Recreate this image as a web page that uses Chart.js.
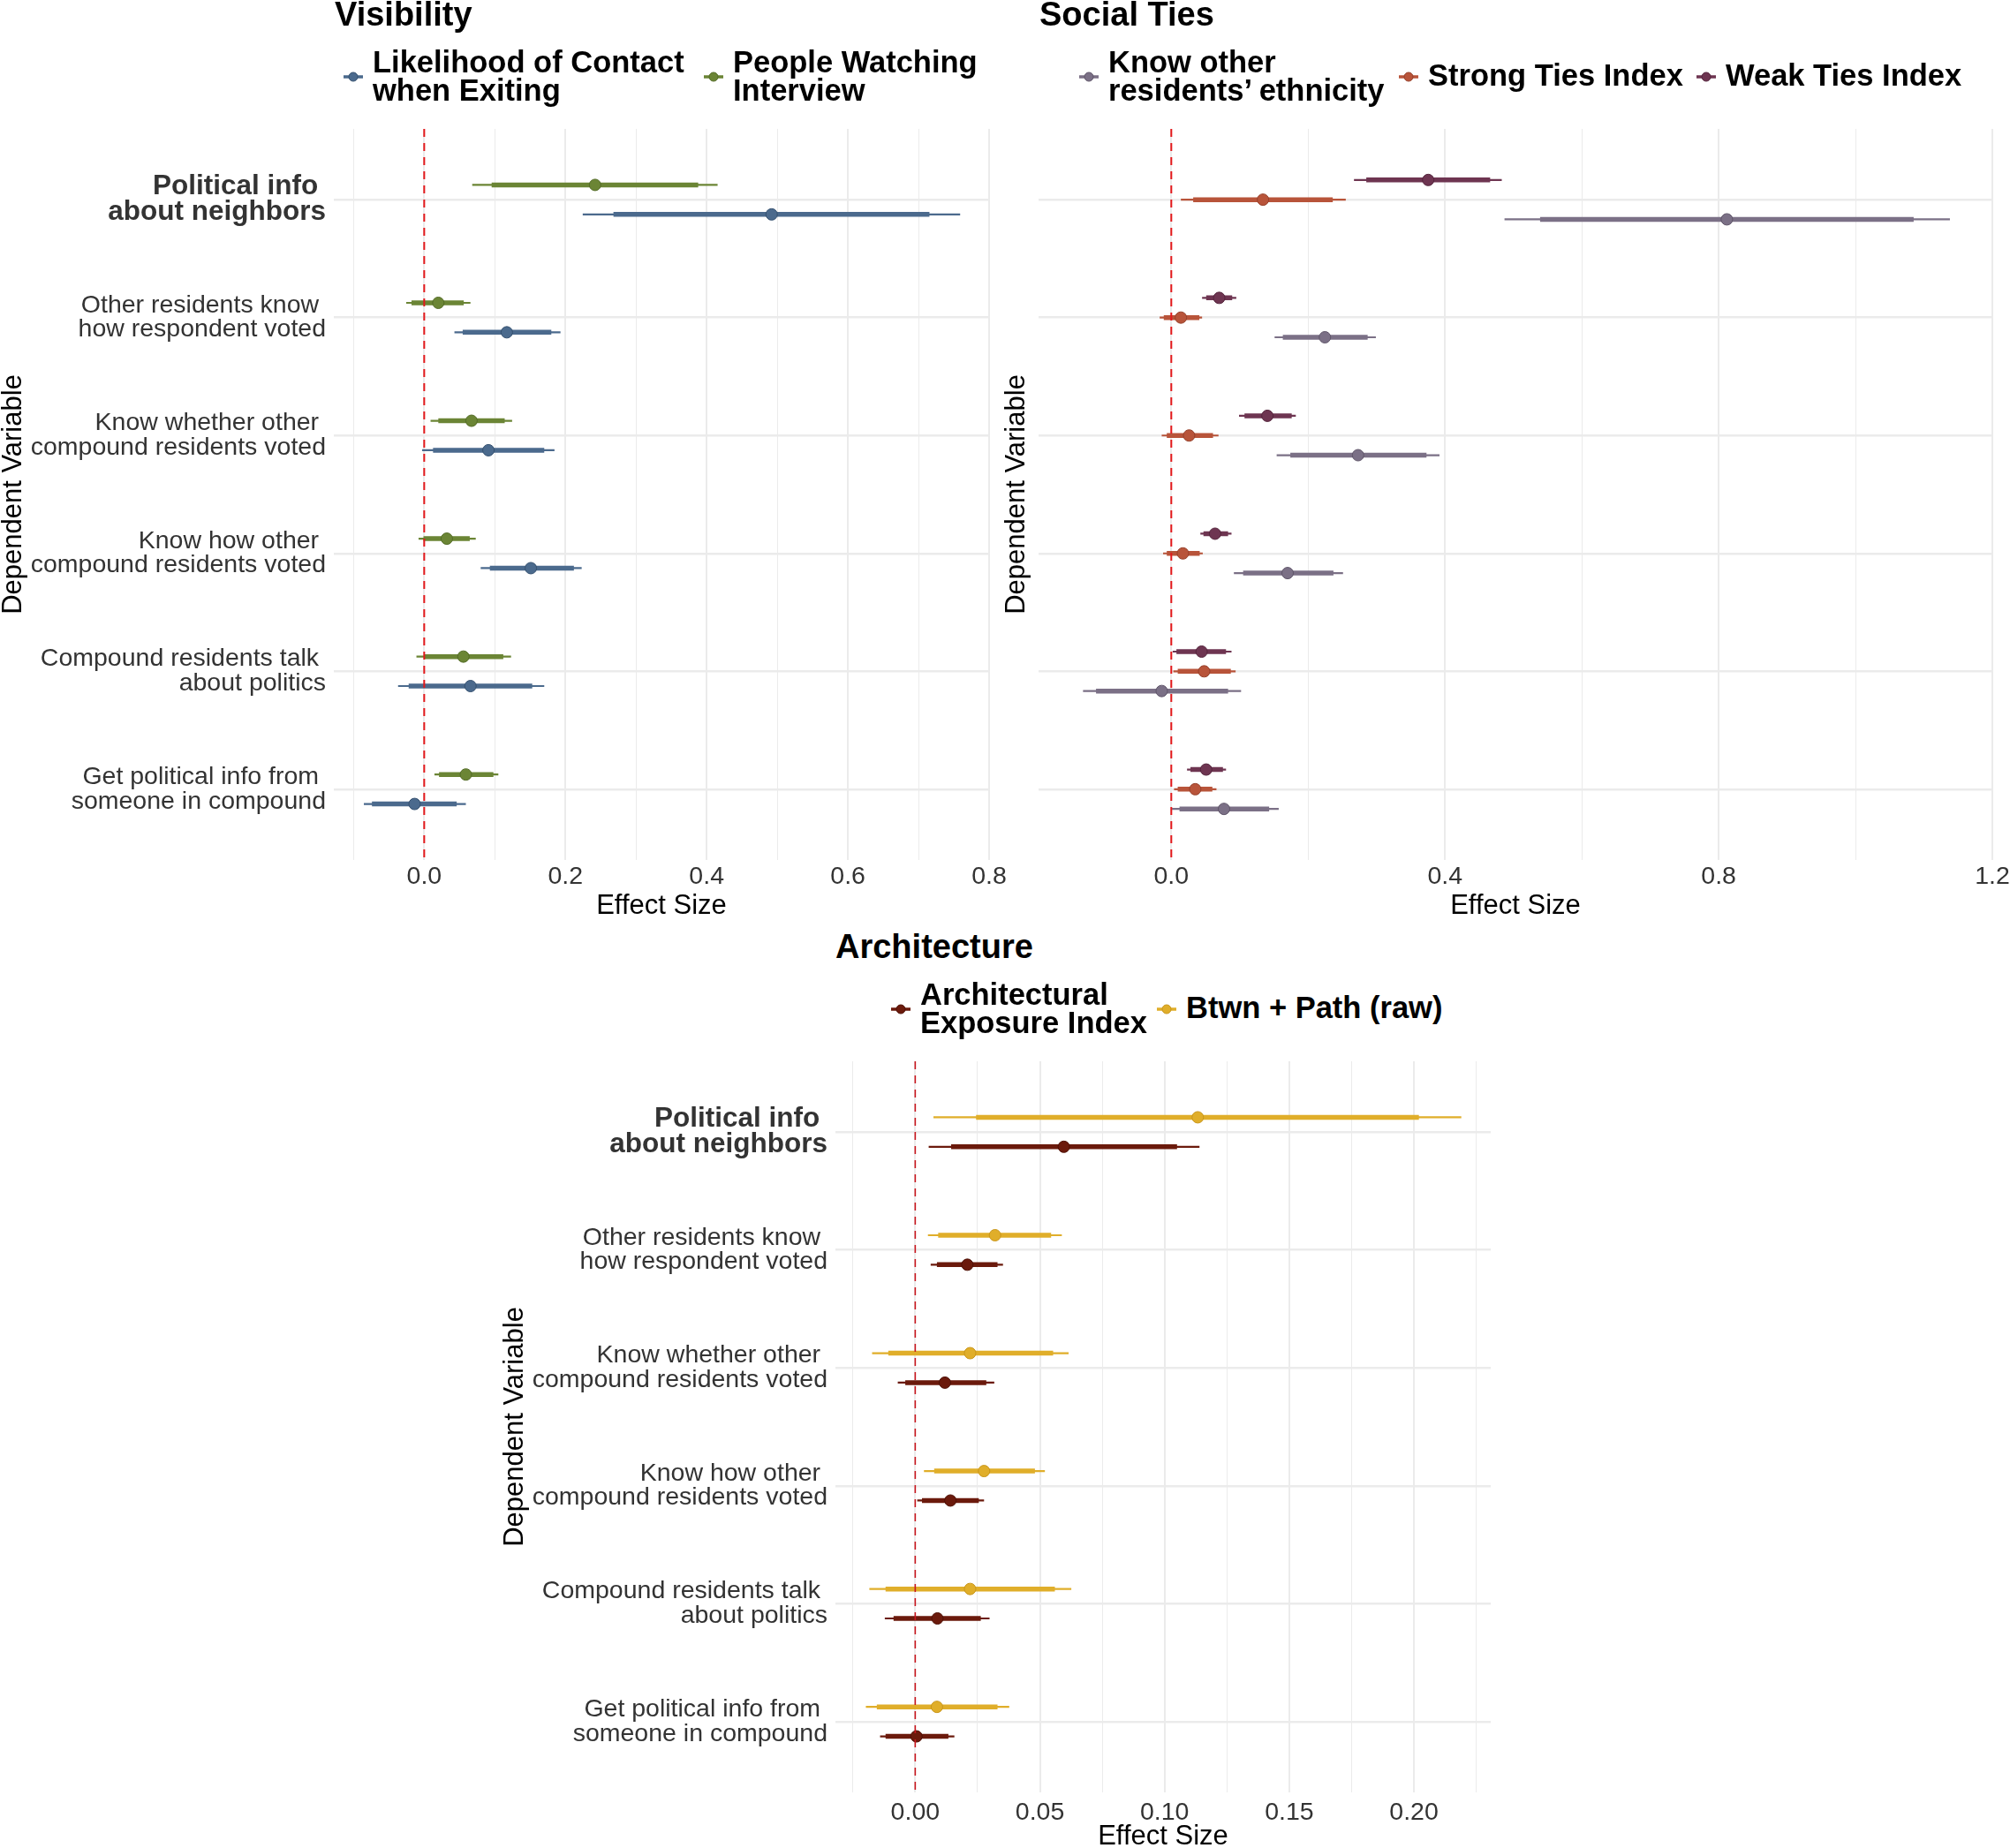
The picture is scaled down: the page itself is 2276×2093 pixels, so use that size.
<!DOCTYPE html>
<html lang="en">
<head>
<meta charset="UTF-8">
<title>Effect sizes: Visibility, Social Ties, Architecture</title>
<script src="https://cdn.jsdelivr.net/npm/chart.js@4.4.0/dist/chart.umd.min.js"></script>
<style>
    body { margin: 0; width: 2276px; height: 2093px; overflow: hidden; background: #fff; position: relative;
           font-family: 'Liberation Sans', Arial, sans-serif; }
    canvas { position: absolute; }
    .ttl { position: absolute; font-weight: bold; font-size: 38px; line-height: 38px; color: #000; white-space: nowrap; }
    .lg { position: absolute; font-weight: bold; font-size: 34.5px; line-height: 32px; color: #000; white-space: nowrap; }
    .key { position: absolute; }
</style>
</head>
<body>

<canvas id="visChart" width="1140" height="1045" style="left:0;top:0"></canvas>
<canvas id="socChart" width="1146" height="1045" style="left:1130px;top:0"></canvas>
<canvas id="archChart" width="1140" height="936" style="left:560px;top:1160px"></canvas>

<script>
// categories (top to bottom), label lines
const categories = [
    ['Political info ', 'about neighbors'],
    ['Other residents know ', 'how respondent voted'],
    ['Know whether other ', 'compound residents voted'],
    ['Know how other ', 'compound residents voted'],
    ['Compound residents talk ', 'about politics'],
    ['Get political info from ', 'someone in compound']
];

// x ticks ('' = minor gridline only)
const visTicks = [-0.1, 0, 0.1, 0.2, 0.3, 0.4, 0.5, 0.6, 0.7, 0.8];
const visTickLabels = ['', '0.0', '', '0.2', '', '0.4', '', '0.6', '', '0.8'];
const socTicks = [0, 0.2, 0.4, 0.6, 0.8, 1.0, 1.2];
const socTickLabels = ['0.0', '', '0.4', '', '0.8', '', '1.2'];
const archTicks = [-0.025, 0, 0.025, 0.05, 0.075, 0.1, 0.125, 0.15, 0.175, 0.2, 0.225];
const archTickLabels = ['', '0.00', '', '0.05', '', '0.10', '', '0.15', '', '0.20', ''];

// Visibility: Likelihood of Contact when Exiting
const contactEst  = [0.492, 0.117, 0.091, 0.151, 0.0655, -0.0136];
const contactLo95 = [0.2245, 0.0428, -0.003, 0.080, -0.037, -0.0855];
const contactHi95 = [0.759, 0.193, 0.1845, 0.223, 0.170, 0.059];
const contactLo   = [0.268, 0.0545, 0.0125, 0.093, -0.022, -0.074];
const contactHi   = [0.7155, 0.180, 0.170, 0.212, 0.153, 0.046];

// Visibility: People Watching Interview
const watchEst  = [0.242, 0.020, 0.067, 0.032, 0.0555, 0.059];
const watchLo95 = [0.068, -0.0255, 0.009, -0.008, -0.011, 0.0145];
const watchHi95 = [0.4155, 0.0655, 0.1245, 0.073, 0.123, 0.105];
const watchLo   = [0.0955, -0.018, 0.020, -0.001, 0.000, 0.021];
const watchHi   = [0.388, 0.056, 0.114, 0.0645, 0.112, 0.098];

// Social Ties: Know other residents' ethnicity
const knowEst  = [0.812, 0.2245, 0.273, 0.170, -0.014, 0.077];
const knowLo95 = [0.487, 0.151, 0.154, 0.0915, -0.129, 0.001];
const knowHi95 = [1.138, 0.299, 0.392, 0.251, 0.102, 0.157];
const knowLo   = [0.539, 0.163, 0.174, 0.105, -0.110, 0.012];
const knowHi   = [1.085, 0.287, 0.373, 0.237, 0.083, 0.143];

// Social Ties: Strong Ties Index
const strongEst  = [0.134, 0.014, 0.026, 0.017, 0.048, 0.035];
const strongLo95 = [0.014, -0.017, -0.014, -0.012, 0.003, 0.004];
const strongHi95 = [0.255, 0.045, 0.069, 0.046, 0.094, 0.066];
const strongLo   = [0.032, -0.011, -0.0066, -0.0066, 0.0094, 0.0094];
const strongHi   = [0.236, 0.041, 0.061, 0.0415, 0.087, 0.060];

// Social Ties: Weak Ties Index
const weakEst  = [0.3755, 0.070, 0.1405, 0.064, 0.0443, 0.051];
const weakLo95 = [0.267, 0.045, 0.099, 0.0425, 0.002, 0.023];
const weakHi95 = [0.483, 0.095, 0.182, 0.088, 0.088, 0.080];
const weakLo   = [0.285, 0.051, 0.107, 0.047, 0.0075, 0.028];
const weakHi   = [0.466, 0.089, 0.176, 0.083, 0.080, 0.0755];

// Architecture: Architectural Exposure Index
const archEst  = [0.0596, 0.0209, 0.0119, 0.0141, 0.0089, 0.0005];
const archLo95 = [0.0054, 0.0062, -0.007, 0.0008, -0.0122, -0.0141];
const archHi95 = [0.114, 0.0352, 0.0317, 0.0276, 0.0298, 0.0157];
const archLo   = [0.0144, 0.0087, -0.004, 0.0027, -0.0087, -0.0119];
const archHi   = [0.105, 0.033, 0.0285, 0.0255, 0.0263, 0.0133];

// Architecture: Btwn + Path (raw)
const btwnEst  = [0.1133, 0.032, 0.022, 0.0276, 0.022, 0.0087];
const btwnLo95 = [0.0073, 0.0051, -0.0173, 0.0035, -0.0184, -0.0198];
const btwnHi95 = [0.219, 0.0588, 0.0615, 0.052, 0.0626, 0.0377];
const btwnLo   = [0.0244, 0.0092, -0.0108, 0.0076, -0.0119, -0.0154];
const btwnHi   = [0.202, 0.0545, 0.0553, 0.048, 0.056, 0.033];

Chart.defaults.font.family = "'Liberation Sans', Arial, sans-serif";

// offset = dodge within a category row (negative = above)
const visSeries = [
    { name: ['Likelihood of Contact', 'when Exiting'], color: '#4B6A8D', edge: '#34506F', off: 0.125,
      est: contactEst, lo95: contactLo95, hi95: contactHi95, lo: contactLo, hi: contactHi },
    { name: ['People Watching', 'Interview'], color: '#6B8535', edge: '#536B26', off: -0.125,
      est: watchEst, lo95: watchLo95, hi95: watchHi95, lo: watchLo, hi: watchHi }
];
const socSeries = [
    { name: ['Know other', 'residents\u2019 ethnicity'], color: '#7B7086', edge: '#5F5569', off: 0.167,
      est: knowEst, lo95: knowLo95, hi95: knowHi95, lo: knowLo, hi: knowHi },
    { name: ['Strong Ties Index'], color: '#B8543A', edge: '#96402A', off: 0,
      est: strongEst, lo95: strongLo95, hi95: strongHi95, lo: strongLo, hi: strongHi },
    { name: ['Weak Ties Index'], color: '#6E3551', edge: '#54243C', off: -0.167,
      est: weakEst, lo95: weakLo95, hi95: weakHi95, lo: weakLo, hi: weakHi }
];
const archSeries = [
    { name: ['Architectural', 'Exposure Index'], color: '#6B1A0C', edge: '#4E1005', off: 0.125,
      est: archEst, lo95: archLo95, hi95: archHi95, lo: archLo, hi: archHi },
    { name: ['Btwn + Path (raw)'], color: '#E0AE2A', edge: '#C9961A', off: -0.125,
      est: btwnEst, lo95: btwnLo95, hi95: btwnHi95, lo: btwnLo, hi: btwnHi }
];

function segs(lo, hi, off) {
    const pts = [];
    lo.forEach((l, i) => {
        pts.push({ x: l, y: i + 1 + off }, { x: hi[i], y: i + 1 + off }, { x: null, y: null });
    });
    return pts;
}

function buildChart(id, series, ticks, tickLabels, o) {
    const datasets = [{
        data: [{ x: 0, y: 0.4 }, { x: 0, y: 6.6 }],
        showLine: true, borderColor: o.zeroColor, borderWidth: o.zeroWidth, borderDash: [9, 7],
        pointRadius: 0, order: 0
    }];
    series.forEach(s => {
        datasets.push({
            data: s.est.map((v, i) => ({ x: v, y: i + 1 + s.off })),
            showLine: false, pointRadius: 6.5, pointBackgroundColor: s.color,
            pointBorderColor: s.edge, pointBorderWidth: 1, order: 1
        });
        datasets.push({
            data: segs(s.lo, s.hi, s.off), showLine: true, borderColor: s.color,
            borderWidth: 5.5, pointRadius: 0, order: 2
        });
        datasets.push({
            data: segs(s.lo95, s.hi95, s.off), showLine: true, borderColor: s.color,
            borderWidth: 2.2, pointRadius: 0, order: 3
        });
    });

    new Chart(document.getElementById(id), {
        type: 'scatter',
        data: { datasets },
        options: {
            responsive: false,
            animation: false,
            events: [],
            devicePixelRatio: 1,
            layout: { padding: { top: o.padTop, right: o.padRight, left: 0, bottom: 0 } },
            plugins: { legend: { display: false }, tooltip: { enabled: false } },
            scales: {
                x: {
                    type: 'linear', min: o.xMin, max: o.xMax,
                    afterBuildTicks: sc => { sc.ticks = ticks.map(v => ({ value: v })); },
                    afterFit: sc => { sc.height = o.xHeight; sc.paddingLeft = 0; sc.paddingRight = 0; },
                    ticks: { autoSkip: false, maxRotation: 0, padding: o.xTickPad, color: '#333',
                             font: { size: 28.5 }, callback: (v, i) => tickLabels[i] },
                    grid: { color: '#EBEBEB', drawTicks: false,
                            lineWidth: c => tickLabels[c.index] ? 2 : 1 },
                    border: { display: false },
                    title: { display: true, text: 'Effect Size', color: '#000',
                             font: { size: 31, lineHeight: 1 }, padding: { top: 0, bottom: o.xTitlePad } }
                },
                y: {
                    type: 'linear', min: 0.4, max: 6.6, reverse: true,
                    afterBuildTicks: sc => { sc.ticks = categories.map((c, i) => ({ value: i + 1 })); },
                    afterFit: sc => { sc.width = o.yWidth; sc.paddingTop = 0; sc.paddingBottom = 0; },
                    ticks: { autoSkip: false, padding: 9, display: o.showCats, color: '#333',
                             callback: (v, i) => categories[i],
                             font: c => c.index === 0
                                 ? { size: 31.5, weight: 'bold', lineHeight: 0.93 }
                                 : { size: 28.5, weight: 'normal', lineHeight: 0.97 } },
                    grid: { color: '#EBEBEB', lineWidth: 2.5, drawTicks: false },
                    border: { display: false },
                    title: { display: true, text: 'Dependent Variable', color: '#000',
                             font: { size: 31, lineHeight: 1 }, padding: { top: o.yTitlePad, bottom: 0 } }
                }
            }
        }
    });
}

buildChart('visChart', visSeries, visTicks, visTickLabels, {
    xMin: -0.128, xMax: 0.8, padTop: 146, padRight: 20, yWidth: 378, xHeight: 71,
    xTickPad: 2, xTitlePad: 3.5, yTitlePad: 0, showCats: true, zeroColor: '#E3191C', zeroWidth: 2
});
buildChart('socChart', socSeries, socTicks, socTickLabels, {
    xMin: -0.194, xMax: 1.2, padTop: 146, padRight: 20, yWidth: 46, xHeight: 71,
    xTickPad: 2, xTitlePad: 3.5, yTitlePad: 5.5, showCats: false, zeroColor: '#E3191C', zeroWidth: 2
});
buildChart('archChart', archSeries, archTicks, archTickLabels, {
    xMin: -0.032, xMax: 0.2308, padTop: 42, padRight: 12, yWidth: 386, xHeight: 66,
    xTickPad: 6, xTitlePad: 0, yTitlePad: 7.5, showCats: true, zeroColor: '#C8161E', zeroWidth: 1.6
});

// panel titles and legends
function header(panelTop, titleLeft, title, series, keyXs) {
    const t = document.createElement('div');
    t.className = 'ttl';
    t.style.left = titleLeft + 'px';
    t.style.top = (panelTop - 149.2) + 'px';
    t.textContent = title;
    document.body.appendChild(t);

    series.forEach((s, i) => {
        const kx = keyXs[i], ky = panelTop - 59;
        const svg = document.createElementNS('http://www.w3.org/2000/svg', 'svg');
        svg.setAttribute('class', 'key');
        svg.setAttribute('width', 22);
        svg.setAttribute('height', 14);
        svg.style.left = (kx - 11) + 'px';
        svg.style.top = (ky - 7) + 'px';
        svg.innerHTML = '<line x1="0" y1="7" x2="22" y2="7" stroke="' + s.color + '" stroke-width="3.5"/>' +
            '<circle cx="11" cy="7" r="5" fill="' + s.color + '" stroke="' + s.edge + '" stroke-width="1"/>';
        document.body.appendChild(svg);

        const d = document.createElement('div');
        d.className = 'lg';
        d.style.left = (kx + 22) + 'px';
        d.style.top = (s.name.length > 1 ? panelTop - 92.4 : panelTop - 77.2) + 'px';
        d.innerHTML = s.name.join('<br>');
        document.body.appendChild(d);
    });
}

// legend order: as listed in the reference
header(146, 379, 'Visibility', visSeries, [400, 808]);
header(146, 1177, 'Social Ties', socSeries, [1233, 1595, 1932]);
header(1202, 946, 'Architecture', archSeries, [1020, 1321]);
</script>

</body>
</html>
